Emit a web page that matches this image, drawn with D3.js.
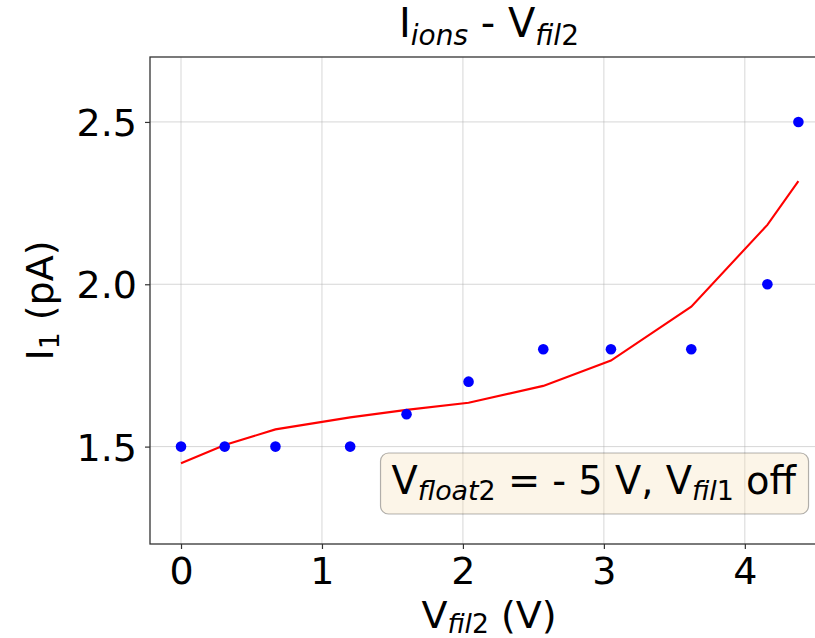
<!DOCTYPE html>
<html>
<head>
<meta charset="utf-8">
<script src="https://cdn.jsdelivr.net/npm/d3@7"></script>
<style>
  html, body { margin: 0; padding: 0; background: #fff; }
  svg { display: block; }
  text { font-family: "DejaVu Sans", sans-serif; fill: #000; }
</style>
</head>
<body>
<svg id="chart" width="815" height="638"></svg>
<script>
// ---- data ----
const vfil2 = [0, 0.31, 0.67, 1.20, 1.60, 2.04, 2.57, 3.05, 3.62, 4.16, 4.38];
const current = [1.5, 1.5, 1.5, 1.5, 1.6, 1.7, 1.8, 1.8, 1.8, 2.0, 2.5];
const fitCurrent = [1.449, 1.505, 1.553, 1.590, 1.613, 1.635, 1.687, 1.765, 1.931, 2.183, 2.318];
const xTicks = [0, 1, 2, 3, 4];
const yTicks = [1.5, 2.0, 2.5];
const xDomain = [-0.22, 4.59];
const yDomain = [1.2, 2.7];

// ---- layout ----
const L = 150, R = 828, T = 57, B = 544;
const FS = 38;
const svg = d3.select("#chart");
const x = d3.scaleLinear().domain(xDomain).range([L, R]);
const y = d3.scaleLinear().domain(yDomain).range([B, T]);

// grid
const grid = svg.append("g");
grid.selectAll("line.gx").data(xTicks).join("line")
  .attr("x1", d => x(d)).attr("x2", d => x(d)).attr("y1", T).attr("y2", B)
  .attr("stroke", "#b0b0b0").attr("stroke-opacity", 0.5).attr("stroke-width", 1);
grid.selectAll("line.gy").data(yTicks).join("line")
  .attr("y1", d => y(d)).attr("y2", d => y(d)).attr("x1", L).attr("x2", R)
  .attr("stroke", "#b0b0b0").attr("stroke-opacity", 0.5).attr("stroke-width", 1);

// axes
const xAxis = d3.axisBottom(x).tickValues(xTicks).tickFormat(d3.format("d")).tickSize(5).tickPadding(8);
const yAxis = d3.axisLeft(y).tickValues(yTicks).tickFormat(d3.format(".1f")).tickSize(5).tickPadding(8);
const gx = svg.append("g").attr("transform", `translate(0,${B})`).call(xAxis);
const gy = svg.append("g").attr("transform", `translate(${L},0)`).call(yAxis);
[gx, gy].forEach(g => {
  g.select(".domain").remove();
  g.selectAll(".tick line").attr("stroke", "#333").attr("stroke-width", 1.2);
  g.selectAll(".tick text").style("font-family", "DejaVu Sans").style("font-size", FS + "px").attr("fill", "#000");
});
gx.selectAll(".tick text").attr("dy", null).attr("y", 40);
gy.selectAll(".tick text").attr("dy", "0.36em");

// spines
svg.append("rect").attr("x", L).attr("y", T).attr("width", R - L).attr("height", B - T)
  .attr("fill", "none").attr("stroke", "#333").attr("stroke-width", 1.3);

// fit line
svg.append("path").datum(vfil2.map((v, i) => [v, fitCurrent[i]]))
  .attr("d", d3.line().x(d => x(d[0])).y(d => y(d[1])))
  .attr("fill", "none").attr("stroke", "#ff0000").attr("stroke-width", 2.1);

// points
svg.selectAll("circle.pt").data(vfil2.map((v, i) => [v, current[i]])).join("circle")
  .attr("cx", d => x(d[0])).attr("cy", d => y(d[1])).attr("r", 5.3).attr("fill", "#0000ff");

// helper for mathtext-like pieces
function rich(sel, parts, fs, shift) {
  let prevDy = 0;
  parts.forEach(p => {
    const t = sel.append("tspan").text(p.t);
    const dyTarget = p.sub ? shift : 0;
    if (dyTarget !== prevDy) t.attr("dy", dyTarget - prevDy);
    prevDy = dyTarget;
    if (p.sub) t.style("font-size", (fs * 0.7) + "px");
    if (p.it) t.style("font-style", "italic");
  });
}

// title
const TFS = 40;
const title = svg.append("text").attr("x", (L + R) / 2).attr("y", 37)
  .attr("text-anchor", "middle").style("font-size", TFS + "px");
rich(title, [{t: "I"}, {t: "ions", sub: true, it: true}, {t: " - V"}, {t: "fil", sub: true, it: true}, {t: "2", sub: true}], TFS, 8);

// x label
const xl = svg.append("text").attr("x", (L + R) / 2).attr("y", 628)
  .attr("text-anchor", "middle").style("font-size", FS + "px");
rich(xl, [{t: "V"}, {t: "fil", sub: true, it: true}, {t: "2", sub: true}, {t: " (V)"}], FS, 5);

// y label
const yl = svg.append("text").attr("transform", `translate(53,${(T + B) / 2}) rotate(-90)`)
  .attr("text-anchor", "middle").style("font-size", FS + "px");
rich(yl, [{t: "I"}, {t: "1", sub: true}, {t: " (pA)"}], FS, 6);

// annotation box
const AFS = 38.4;
const ann = svg.append("g");
const box = ann.append("rect");
const at = ann.append("text").attr("x", 796).attr("y", 494)
  .attr("text-anchor", "end").style("font-size", AFS + "px");
rich(at, [{t: "V"}, {t: "float", sub: true, it: true}, {t: "2", sub: true}, {t: " = - 5 V, V"}, {t: "fil", sub: true, it: true}, {t: "1", sub: true}, {t: " off"}], AFS, 6);
const bb = at.node().getBBox();
box.attr("x", bb.x - 11).attr("y", 453).attr("width", bb.width + 22).attr("height", 61)
  .attr("rx", 8).attr("ry", 8)
  .attr("fill", "#f5deb3").attr("fill-opacity", 0.3)
  .attr("stroke", "#000").attr("stroke-opacity", 0.3).attr("stroke-width", 1.2);
</script>
</body>
</html>
